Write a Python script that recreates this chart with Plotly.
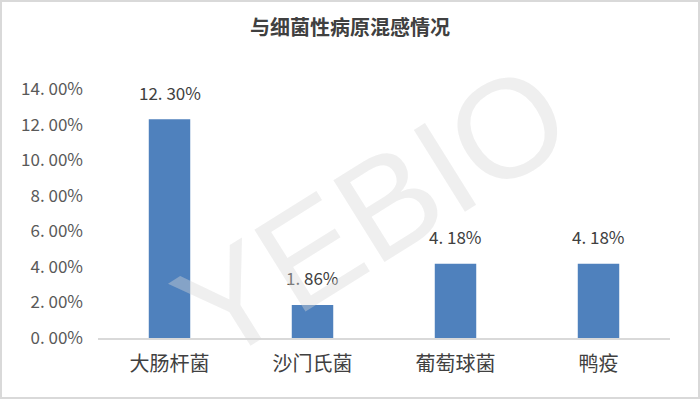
import plotly.graph_objects as go

categories = ["大肠杆菌", "沙门氏菌", "葡萄球菌", "鸭疫"]
values = [12.30, 1.86, 4.18, 4.18]
tick_vals = [0, 2, 4, 6, 8, 10, 12, 14]
tick_text = ["0. 00%", "2. 00%", "4. 00%", "6. 00%", "8. 00%", "10. 00%", "12. 00%", "14. 00%"]
label_text = ["12. 30%", "1. 86%", "4. 18%", "4. 18%"]
title = "与细菌性病原混感情况"

W, H = 700, 399
L, R, T, B = 98, 30, 89, 61
pw, ph = W - L - R, H - T - B
FONT = "Noto Sans CJK SC"

fig = go.Figure(go.Bar(
    x=categories, y=values,
    marker=dict(color="#4F81BD", line=dict(width=0)),
    width=0.29, hoverinfo="skip",
))

for c, v, t in zip(categories, values, label_text):
    fig.add_annotation(x=c, y=v, text=t, showarrow=False, yanchor="middle", yshift=27,
                       font=dict(family=FONT, size=17, color="#404040"))

fig.update_layout(
    width=W, height=H,
    margin=dict(l=L, r=R, t=T, b=B),
    paper_bgcolor="white", plot_bgcolor="white",
    showlegend=False,
    title=dict(text=title, x=0.5, xref="container", xanchor="center", y=1 - 28 / H, yanchor="middle",
               font=dict(family=FONT, size=20, color="#404040", weight="bold")),
    font=dict(family=FONT),
)
fig.update_xaxes(
    showgrid=False, showline=True, linecolor="#D9D9D9", linewidth=1.5,
    tickfont=dict(family=FONT, size=20, color="#404040"),
    ticks="", ticklabelstandoff=7,
)
fig.update_yaxes(
    range=[0, 14], tickvals=tick_vals, ticktext=tick_text,
    showgrid=False, zeroline=False, showline=False,
    tickfont=dict(family=FONT, size=17, color="#595959"),
    ticks="", ticklabelstandoff=14,
)

# watermark
fig.add_annotation(
    text="YEBIO", xref="paper", yref="paper",
    x=(372 - L) / pw, y=1 - (212 - T) / ph,
    showarrow=False, textangle=-32,
    font=dict(family="Liberation Sans", size=140, color="rgba(215,215,215,0.40)"),
)

# outer border
fig.add_shape(
    type="rect", xref="paper", yref="paper",
    x0=(1 - L) / pw, x1=(W - 1 - L) / pw,
    y0=1 - (H - 1 - T) / ph, y1=1 - (1 - T) / ph,
    line=dict(color="#D9D9D9", width=2), fillcolor="rgba(0,0,0,0)", layer="above",
)

fig.write_html("out.html")
